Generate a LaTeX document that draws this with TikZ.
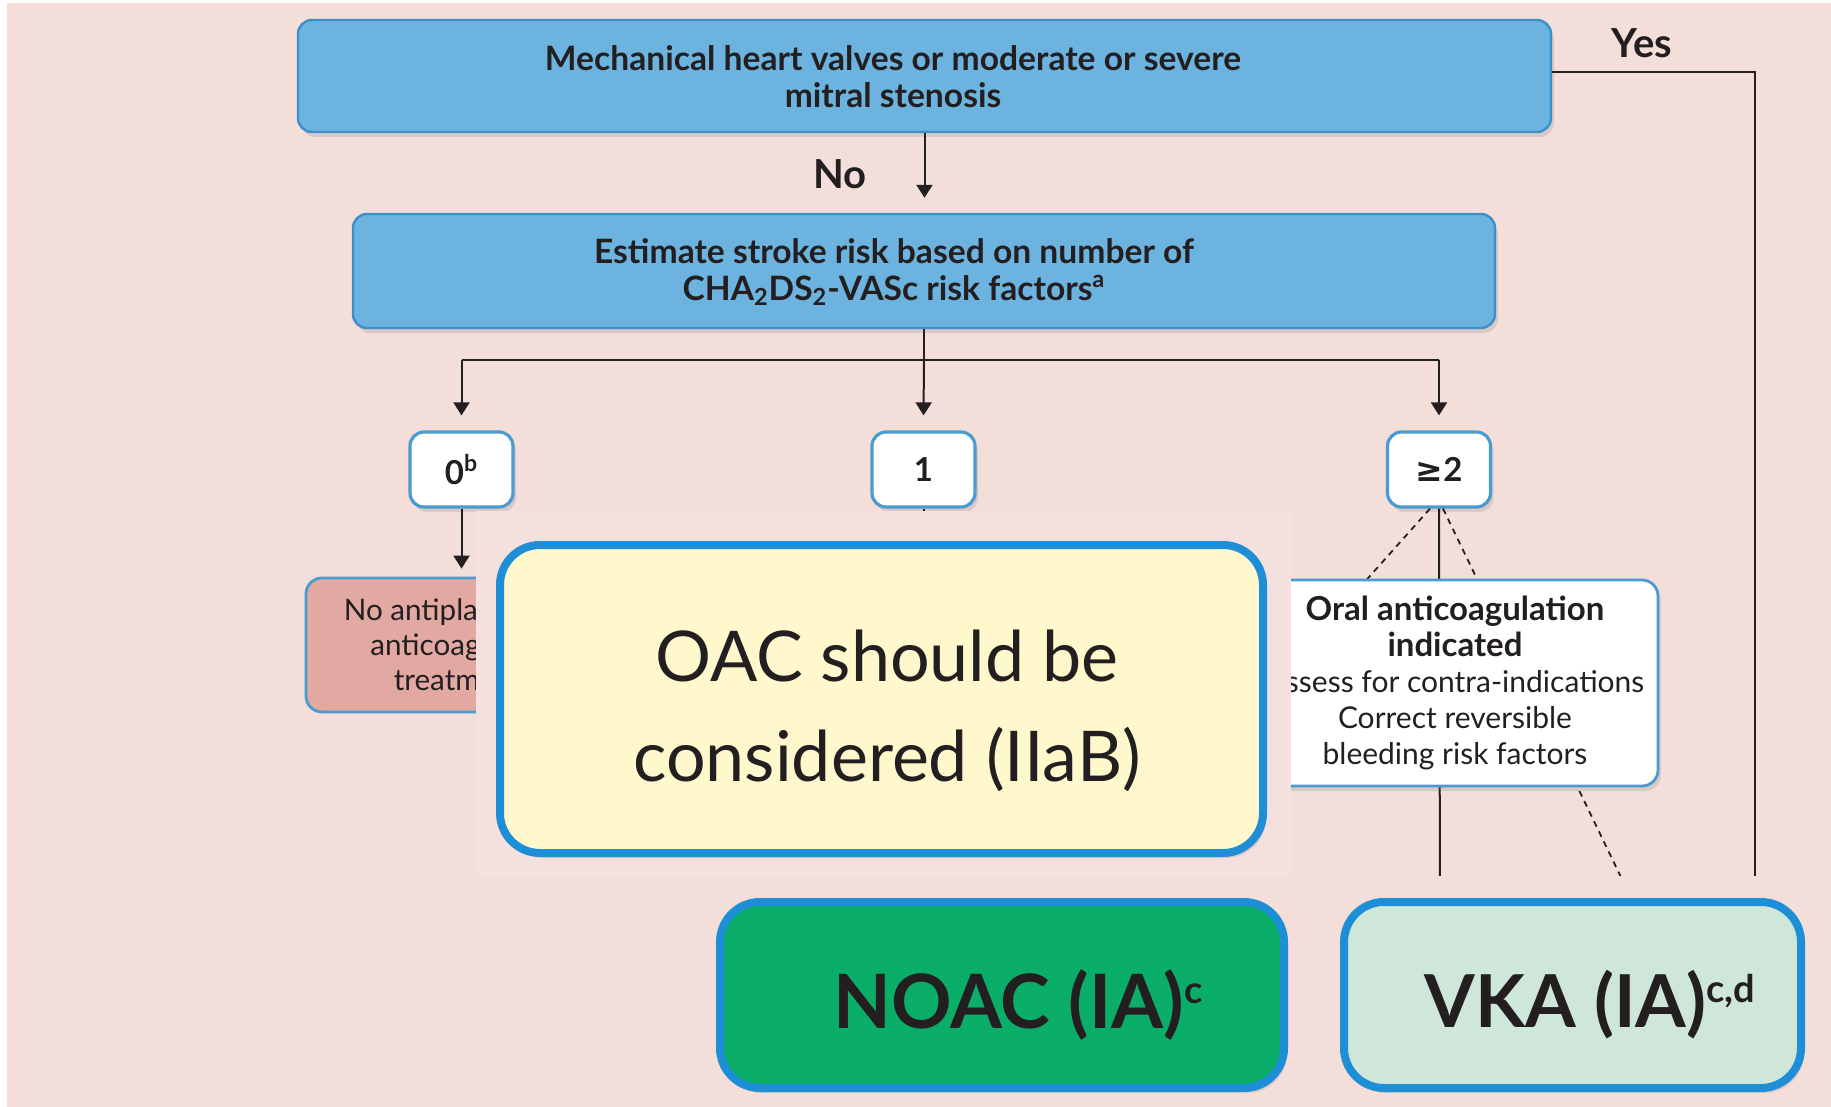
\documentclass[tikz,border=0pt]{standalone}
\usepackage{fontspec}
\setmainfont{Lato}
\newfontfamily\symfont{DejaVu Sans}
\usetikzlibrary{arrows.meta,shadows}

\definecolor{bg}{HTML}{F3DEDA}
\definecolor{patchbg}{HTML}{F4E0DC}
\definecolor{qblue}{HTML}{6DB3DF}
\definecolor{qblueedge}{HTML}{3B8FCB}
\definecolor{edgeblue}{HTML}{1E8FD6}
\definecolor{scoreedge}{HTML}{4A9BD0}
\definecolor{paleyellow}{HTML}{FFF8CD}
\definecolor{noacgreen}{HTML}{0BAE69}
\definecolor{vkagreen}{HTML}{CFE7D8}
\definecolor{nopink}{HTML}{E2A9A2}
\definecolor{ink}{HTML}{231F20}

% small raised footnote marks for the large recommendation labels
\newcommand\bigmark[1]{\raisebox{12.5pt}{\fontsize{19}{19}\selectfont #1}}

\begin{document}
\begin{tikzpicture}[x=0.5pt,y=-0.5pt,
  softshadow/.style={drop shadow={opacity=0.22, shadow xshift=1.5pt, shadow yshift=-2.5pt}},
  question/.style={draw=qblueedge, line width=1.2pt, fill=qblue, rounded corners=7pt,
    softshadow, inner sep=0pt},
  qtext/.style={align=center, text=ink, font=\fontsize{16.8}{18.5}\selectfont\bfseries},
  score/.style={draw=scoreedge, line width=1.6pt, fill=white, rounded corners=7pt,
    minimum width=51.5pt, minimum height=37.5pt, inner sep=0pt, softshadow,
    text=ink, font=\fontsize{16.5}{18}\selectfont\bfseries},
  nobox/.style={draw=scoreedge, line width=1.4pt, fill=nopink, rounded corners=8pt,
    minimum width=152pt, minimum height=67pt, align=center, inner sep=0pt,
    text=ink, font=\fontsize{14.8}{17.5}\selectfont},
  oralbox/.style={draw=scoreedge, line width=1.4pt, fill=white, rounded corners=8pt,
    minimum width=203pt, minimum height=103pt, align=center, inner sep=0pt,
    softshadow, text=ink, font=\fontsize{15}{18}\selectfont},
  bigbox/.style={draw=edgeblue, line width=4pt, rounded corners=20pt, inner sep=0pt,
    softshadow},
  bigtext/.style={align=center, text=ink, inner sep=0pt},
  lbl/.style={text=ink, font=\fontsize{20}{22}\selectfont\bfseries, inner sep=0pt},
  conn/.style={draw=ink, line width=1pt},
  arrowconn/.style={conn, -{Triangle[width=8pt,length=6.5pt]}},
  dashconn/.style={draw=ink, line width=0.9pt, dash pattern=on 3pt off 2.6pt}
]
\useasboundingbox (0,0) rectangle (1831,1107);
\fill[white] (0,0) rectangle (1831,1107);
\fill[bg] (7,3) rectangle (1831,1107);

% ---- decision boxes ----
\node[question, minimum width=626.5pt, minimum height=56pt] (valves) at (924.5,76) {};
\node[qtext] (valvesT) at (893,76.5) {Mechanical heart valves or moderate or severe\\mitral stenosis};
\node[question, minimum width=571pt, minimum height=57pt] (risk) at (924,271) {};
\node[qtext] (riskT) at (894,272) {Estimate stroke risk based on number of\\CHA\textsubscript{2}DS\textsubscript{2}-VASc risk factors\textsuperscript{a}};

\node[lbl] (nolbl) at (840,174) {No};
\node[lbl] (yeslbl) at (1642,43) {Yes};

% ---- score boxes ----
\node[score] (s0) at (461.5,469.5) {0\textsuperscript{b}};
\node[score] (s1) at (923.5,469.5) {1};
\node[score] (s2) at (1439,469.5) {{\symfont\bfseries ≥}2};

% ---- free ends of the connectors ----
\coordinate (split) at (924,360);
\coordinate (yesdown) at (1755,900);
\coordinate (onedown) at (923.5,600);
\coordinate (twodown) at (1440,900);
\coordinate (dashR) at (1632,900);
\coordinate (dashL) at (1183,786);

% ---- connectors ----
\draw[arrowconn] (valves.south) -- ([yshift=7.5pt]valves.south |- risk.north);
\draw[conn] ([yshift=2pt]valves.east) -| (yesdown);
\draw[conn] (risk.south) -- (split);
\draw[conn] (split -| s0) -- (split -| s2);
\draw[arrowconn] (split -| s0) -- ([yshift=7.5pt]s0.north);
\draw[arrowconn] (split) -- ([yshift=7.5pt]s1.north);
\draw[arrowconn] (split -| s2) -- ([yshift=7.5pt]s2.north);
\draw[conn] (s1.south) -- (onedown);
\draw[conn] (s2.south) -- (twodown);
\draw[dashconn] ([xshift=2pt]s2.south) -- (dashR);
\draw[dashconn] ([xshift=-4.5pt]s2.south) -- (dashL);

% ---- outcome boxes ----
\node[nobox] (none) at (458,645) {No antiplatelet or\\anticoagulant\\treatment};
\draw[arrowconn] (s0.south) -- ([yshift=4pt]s0.south |- none.north);
\node[oralbox] (oral) at (1455,683) {\textbf{\fontsize{16.5}{18}\selectfont Oral anticoagulation}\\\textbf{\fontsize{16.5}{18}\selectfont indicated}\\Assess for contra-indications\\Correct reversible\\bleeding risk factors};

% ---- recommendation panels ----
\fill[patchbg] (476,511) rectangle (1291,876);
\node[bigbox, fill=paleyellow, minimum width=381.5pt, minimum height=154pt] (oac) at (881.5,699) {};
\node[bigtext, font=\fontsize{35}{50}\selectfont] (oacT) at (887,711) {OAC should be\\considered (IIaB)};

\fill[bg] (712,876) rectangle (1831,1107);
\node[bigbox, fill=noacgreen, minimum width=282pt, minimum height=93pt] (noac) at (1002,995) {};
\node[bigtext, font=\fontsize{37.5}{40}\selectfont\bfseries] (noacT) at (1018,1005) {NOAC (IA)\bigmark{c}};
\node[bigbox, fill=vkagreen, minimum width=228.5pt, minimum height=93pt] (vka) at (1572.5,995) {};
\node[bigtext, font=\fontsize{36.5}{40}\selectfont\bfseries] (vkaT) at (1590,1005) {VKA (IA)\bigmark{c,d}};
\end{tikzpicture}
\end{document}
